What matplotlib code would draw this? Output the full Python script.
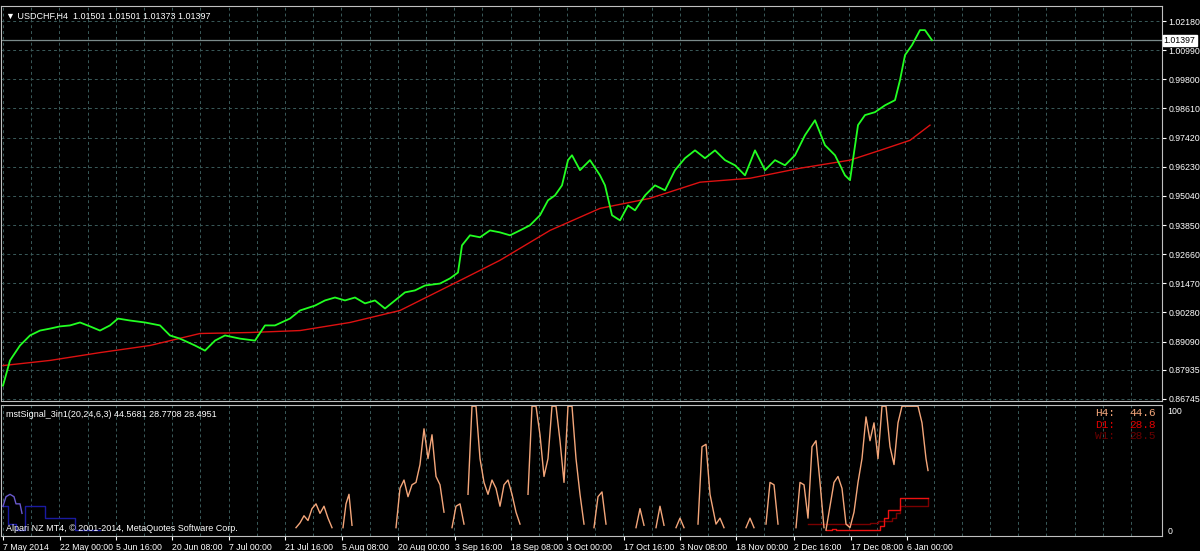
import matplotlib
matplotlib.use("Agg")
import matplotlib.pyplot as plt
import numpy as np

plt.rcParams['font.family'] = ['Liberation Sans', 'DejaVu Sans']
nan = float("nan")

# ---------------- data ----------------
title = "USDCHF,H4  1.01501 1.01501 1.01373 1.01397"
price_ticks = [1.02180, 1.00990, 0.99800, 0.98610, 0.97420, 0.96230, 0.95040,
               0.93850, 0.92660, 0.91470, 0.90280, 0.89090, 0.87935, 0.86745]
last_price = 1.01397
date_labels = ["7 May 2014", "22 May 00:00", "5 Jun 16:00", "20 Jun 08:00", "7 Jul 00:00",
               "21 Jul 16:00", "5 Aug 08:00", "20 Aug 00:00", "3 Sep 16:00", "18 Sep 08:00",
               "3 Oct 00:00", "17 Oct 16:00", "3 Nov 08:00", "18 Nov 00:00", "2 Dec 16:00",
               "17 Dec 08:00", "6 Jan 00:00"]
date_pos = [3, 60, 116, 172, 229, 285, 342, 398, 455, 511, 567, 624, 680, 736, 794, 851, 907]

price_x = [3, 10, 20, 30, 40, 50, 60, 70, 80, 90, 100, 110, 118, 130, 145, 160, 170, 180, 195,
           205, 215, 225, 240, 255, 265, 275, 290, 300, 315, 325, 335, 345, 355, 365, 375, 385,
           395, 405, 415, 425, 440, 450, 458, 462, 470, 480, 490, 500, 510, 520, 530, 540, 548,
           555, 562, 568, 572, 580, 590, 600, 605, 612, 620, 628, 635, 645, 655, 665, 675, 685,
           695, 705, 715, 725, 735, 745, 755, 765, 775, 785, 795, 805, 815, 825, 835, 845, 850,
           858, 865, 875, 885, 895, 900, 905, 912, 920, 925, 932]
price_y = [0.8729, 0.8832, 0.8893, 0.8934, 0.8954, 0.8962, 0.8971, 0.8975, 0.8987, 0.8971,
           0.8954, 0.8975, 0.9003, 0.8995, 0.8987, 0.8975, 0.8934, 0.8921, 0.8893, 0.8872,
           0.8913, 0.8934, 0.8921, 0.8913, 0.8975, 0.8975, 0.9003, 0.9036, 0.9056, 0.9077,
           0.9089, 0.9077, 0.9089, 0.9065, 0.9077, 0.9044, 0.9077, 0.9110, 0.9118, 0.9138,
           0.9146, 0.9167, 0.9191, 0.9302, 0.9343, 0.9335, 0.9363, 0.9355, 0.9343, 0.9363,
           0.9384, 0.9425, 0.9486, 0.9506, 0.9547, 0.9650, 0.9670, 0.9609, 0.9650, 0.9588,
           0.9547, 0.9425, 0.9404, 0.9465, 0.9445, 0.9506, 0.9547, 0.9527, 0.9609, 0.9658,
           0.9690, 0.9658, 0.9690, 0.9650, 0.9629, 0.9588, 0.9690, 0.9609, 0.9650, 0.9629,
           0.9670, 0.9752, 0.9813, 0.9711, 0.9670, 0.9588, 0.9568, 0.9793, 0.9834, 0.9846,
           0.9874, 0.9895, 0.9977, 1.0079, 1.0120, 1.0181, 1.0181, 1.0140]

ma_x = [3, 50, 100, 150, 200, 250, 300, 350, 400, 450, 500, 550, 600, 650, 700, 750, 800,
        850, 880, 910, 930]
ma_y = [0.8811, 0.8832, 0.8864, 0.8893, 0.8942, 0.8946, 0.8954, 0.8987, 0.9036, 0.9138,
        0.9241, 0.9363, 0.9453, 0.9494, 0.9560, 0.9576, 0.9617, 0.9650, 0.9690, 0.9731, 0.9793]

# indicator H4 (orange); nan separates humps
h4_x = [296, 300, 304, 308, 312, 316, 320, 324, 328, 332, 333,
        343, 346, 349, 352, 353,
        396, 400, 404, 408, 412, 416, 420, 424, 428, 432, 436, 440, 444, 445,
        452, 456, 460, 464, 465,
        468, 472, 476, 480, 484, 488, 492, 496, 500, 504, 508, 512, 516, 520, 521,
        528, 532, 536, 540, 544, 548, 552, 556, 560, 564, 568, 572, 576, 580, 584, 585,
        594, 598, 602, 606, 607,
        636, 640, 644, 645, 656, 660, 664, 665, 676, 680, 684, 685,
        698, 702, 706, 710, 716, 720, 724, 725, 746, 750, 754, 755,
        766, 770, 774, 778, 779, 796, 800, 804, 808, 812, 816, 820, 824, 825,
        826, 830, 834, 838, 842, 846, 850, 854, 858, 862, 866, 870, 874, 878, 882, 886,
        890, 894, 898, 902, 906, 910, 914, 918, 922, 926, 928]
h4_y = [2, 6, 12, 8, 18, 22, 14, 20, 10, 2, nan,
        2, 22, 30, 4, nan,
        2, 35, 42, 28, 38, 40, 55, 85, 60, 80, 45, 38, 15, nan,
        2, 20, 22, 5, nan,
        30, 104, 104, 60, 40, 30, 42, 35, 20, 38, 42, 30, 15, 5, nan,
        30, 104, 104, 80, 45, 60, 104, 104, 75, 40, 104, 104, 60, 30, 5, nan,
        2, 28, 32, 5, nan,
        2, 18, 4, nan, 2, 20, 4, nan, 2, 10, 2, nan,
        5, 70, 72, 30, 5, 10, 2, nan, 2, 10, 2, nan,
        5, 40, 38, 5, nan, 2, 40, 38, 10, 70, 75, 40, 2, nan,
        0, 20, 40, 45, 35, 5, 2, 15, 40, 60, 95, 75, 90, 60, 104, 104,
        70, 55, 90, 104, 104, 104, 104, 104, 90, 60, 50]

d1_x = [826, 832, 836, 876, 880, 884, 888, 894, 898, 900, 928]
d1_y = [0, 1, 0, 0, 3, 10, 17, 17, 17, 27, 27]
w1_x = [808, 870, 878, 892, 896, 900, 928]
w1_y = [5, 6, 8, 10, 14, 20, 27]
blu1_x = [3, 6, 10, 14, 16, 20, 22]
blu1_y = [20, 28, 30, 28, 22, 22, 14]
blu2_x = [3, 8, 16, 25, 40, 45, 70, 75, 100]
blu2_y = [20, 5, 0, 20, 20, 10, 10, 0, 0]
signal_text = "mstSignal_3in1(20,24,6,3) 44.5681 28.7708 28.4951"
tf_labels = ["H4:", "D1:", "W1:"]
tf_values = ["44.6", "28.8", "28.5"]
tf_colors = ["#f4a67a", "#e00000", "#6a0000"]

# ---------------- drawing ----------------
W, H = 1200, 551
fig = plt.figure(figsize=(W / 100, H / 100), dpi=100, facecolor="black")
grid_c = "#3a5a5a"
xmin, xmax = 1, 1162

def ax_rect(x0, y0, x1, y1):
    return [x0 / W, 1 - y1 / H, (x1 - x0) / W, (y1 - y0) / H]

ax = fig.add_axes(ax_rect(1, 6, 1162, 401))
ax2 = fig.add_axes(ax_rect(1, 405, 1162, 536))
vgrid = np.arange(3, 1158, 28.2)
for a in (ax, ax2):
    a.set_facecolor("black")
    a.set_xlim(xmin, xmax)
    for s in a.spines.values():
        s.set_color("#c0c0c0")
        s.set_linewidth(0.8)
    for gx in vgrid:
        a.axvline(gx, color=grid_c, lw=0.7, ls=(0, (3, 3)), zorder=0)

# main pane
lo = 0.86745 - 2 / 29.0 * 0.0119
hi = 1.0218 + 15 / 29.0 * 0.0119
ax.set_ylim(lo, hi)
for t in price_ticks:
    ax.axhline(t, color=grid_c, lw=0.7, ls=(0, (3, 3)), zorder=0)
ax.axhline(last_price, color="#7a8a8a", lw=0.9, zorder=1)
ax.plot(ma_x, ma_y, color="#dd1111", lw=1.0, zorder=2)
ax.plot(price_x, price_y, color="#22ff22", lw=1.3, zorder=3)
ax.yaxis.tick_right()
ax.set_yticks(price_ticks)
ax.set_yticklabels([f"{t:.5f}" for t in price_ticks])
ax.tick_params(axis="y", colors="white", labelsize=6.3, length=3, pad=1.5)
ax.set_xticks([])
ax.text(1.0015, last_price, f"{last_price:.5f}", transform=ax.get_yaxis_transform(),
        fontsize=6.3, color="black", va="center", ha="left",
        bbox=dict(facecolor="white", edgecolor="white", pad=0.8))
ax.text(0.004, 0.975, "\u25bc " + title, transform=ax.transAxes, color="white",
        fontsize=6.5, va="center", ha="left", family=["DejaVu Sans"] if False else None)

# indicator pane
ax2.set_ylim(-5, 105)
ax2.plot(blu2_x, blu2_y, color="#1a1aa0", lw=1.0, drawstyle="steps-post")
ax2.plot(blu1_x, blu1_y, color="#6a5acd", lw=1.0)
ax2.plot(w1_x, w1_y, color="#7a0000", lw=1.0, drawstyle="steps-post")
ax2.plot(d1_x, d1_y, color="#ee1111", lw=1.0, drawstyle="steps-post")
ax2.plot(h4_x, h4_y, color="#f4a67a", lw=1.0)
ax2.yaxis.tick_right()
ax2.set_yticks([0, 100])
ax2.set_yticklabels(["0", "100"])
ax2.tick_params(axis="y", colors="white", labelsize=6.3, length=0, pad=4)
ax2.set_xticks(date_pos)
ax2.set_xticklabels(date_labels, ha="left")
ax2.tick_params(axis="x", colors="white", labelsize=6.3, length=3, pad=2)
ax2.text(0.004, 0.93, signal_text, transform=ax2.transAxes, color="white",
         fontsize=6.5, va="center", ha="left")
ax2.text(0.004, 0.06, "Alpari NZ MT4, \u00a9 2001-2014, MetaQuotes Software Corp.",
         transform=ax2.transAxes, color="white", fontsize=6.5, va="center", ha="left")
for i, (lab, val, c) in enumerate(zip(tf_labels, tf_values, tf_colors)):
    yy = 0.94 - i * 0.09
    ax2.text(0.942, yy, lab, transform=ax2.transAxes, color=c, fontsize=8,
             family="Liberation Mono", va="center", ha="left")
    ax2.text(0.995, yy, val, transform=ax2.transAxes, color=c, fontsize=8,
             family="Liberation Mono", va="center", ha="right")

fig.savefig("out.png", dpi=100, facecolor="black")
